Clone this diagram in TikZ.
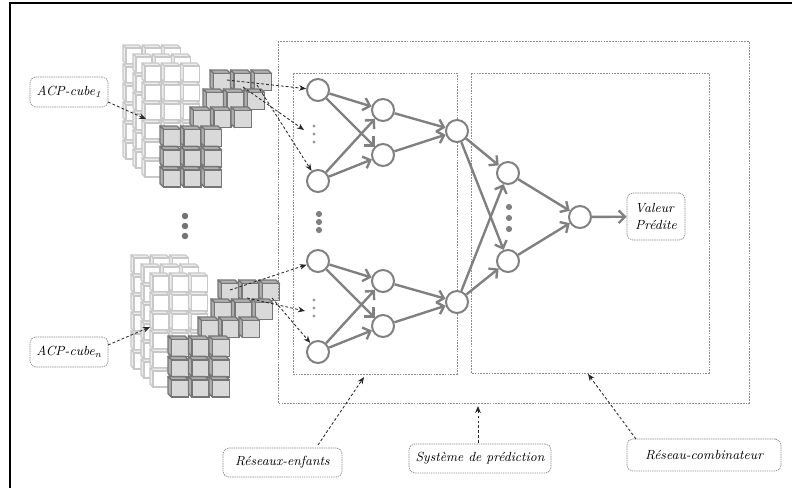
\documentclass[tikz,border=0pt]{standalone}
\usetikzlibrary{arrows.meta}
\definecolor{nngray}{RGB}{128,128,128}
\definecolor{darkfill}{RGB}{217,217,217}
\definecolor{darkside}{RGB}{175,175,175}
\definecolor{darkline}{RGB}{118,118,118}
\definecolor{lightline}{RGB}{200,200,200}
\definecolor{lightside}{RGB}{236,236,236}
\definecolor{framegray}{RGB}{140,140,140}
\tikzset{
  neuron/.style={circle, draw=nngray, line width=1.4pt, fill=white, minimum size=0.55cm, inner sep=0pt},
  nnarrow/.style={draw=nngray, line width=1.7pt, -{Straight Barb[length=4.5pt,width=9pt]}},
  cuearrow/.style={draw=black!85, line width=0.6pt, dash pattern=on 2pt off 1.5pt, -{Stealth[length=5pt,width=4pt]}},
  labelbox/.style={draw=framegray, dash pattern=on 1pt off 0.6pt, line width=0.5pt, rounded corners=4pt, font=\fontsize{9.4}{11.5}\selectfont\itshape, inner sep=0pt},
  zone/.style={draw=framegray, dash pattern=on 1.2pt off 0.8pt, line width=0.45pt},
  dcube/.pic={
    \filldraw[fill=darkside, draw=darkline, line width=1pt, line join=round] (3.5,3.5) -- (20.5,3.5) -- (17,0) -- (0,0) -- cycle;
    \filldraw[fill=darkside, draw=darkline, line width=1pt, line join=round] (3.5,3.5) -- (3.5,20.5) -- (0,17) -- (0,0) -- cycle;
    \filldraw[fill=darkfill, draw=darkline, line width=1pt] (3.5,3.5) rectangle (20.5,20.5);
  },
  lcube/.pic={
    \filldraw[fill=lightside, draw=lightline, line width=0.9pt, line join=round] (3,3) -- (19,3) -- (16,0) -- (0,0) -- cycle;
    \filldraw[fill=lightside, draw=lightline, line width=0.9pt, line join=round] (3,3) -- (3,19) -- (0,16) -- (0,0) -- cycle;
    \filldraw[fill=white, draw=lightline, line width=0.9pt] (3,3) rectangle (19,19);
  }
}
\newcommand\cubegroup{%
  \foreach \ox/\oy in {123/45, 133/54, 142/63}{
    \foreach \r in {0,...,5}{
      \foreach \c in {0,1,2}{
        \pic at ({\ox+\c*19.3},{\oy+\r*19}) {lcube};
      }
    }
  }
  \foreach \ox/\oy in {210/70, 203/89, 190/107}{
    \foreach \c in {0,1,2}{
      \pic at ({\ox+\c*20.5},\oy) {dcube};
    }
  }
  \foreach \r in {0,1,2}{
    \foreach \c in {0,1,2}{
      \pic at ({160+\c*20.5},{126+\r*20.3}) {dcube};
    }
  }
}
\begin{document}
\begin{tikzpicture}[x=0.025cm,y=-0.025cm]
\useasboundingbox (0,0) rectangle (792,488);
% outer frame
\draw[line width=1.6pt, black] (10,488) -- (10,3) -- (792,3);

% cube groups
\cubegroup
\begin{scope}[shift={(8,210)}]
\cubegroup
\end{scope}

% left dots
\foreach \yy in {216,226,236} \fill[nngray!90!black] (185,\yy) circle (2.3pt);

% zones
\draw[zone] (278,41) rectangle (749,403);
\draw[zone] (293,73) rectangle (457,374);
\draw[zone] (471,73) rectangle (709,373);

% neurons
\node[neuron] (i1) at (318,90) {};
\node[neuron] (i2) at (318,181) {};
\node[neuron] (h1) at (383,110) {};
\node[neuron] (h2) at (383,155) {};
\node[neuron] (o1) at (457,131) {};
\node[neuron] (i3) at (318,261) {};
\node[neuron] (i4) at (318,352) {};
\node[neuron] (h3) at (383,281) {};
\node[neuron] (h4) at (383,326) {};
\node[neuron] (o2) at (457,302) {};
\node[neuron] (c1) at (508,173) {};
\node[neuron] (c2) at (508,261) {};
\node[neuron] (co) at (580,217) {};

% dots
\foreach \yy in {126,134,142} \fill[nngray!80] (314,\yy) circle (1.1pt);
\foreach \yy in {300,308,316} \fill[nngray!80] (314,\yy) circle (1.1pt);
\foreach \yy in {214,222,230} \fill[nngray] (319,\yy) circle (2.2pt);
\foreach \yy in {207,218,229} \fill[nngray] (509,\yy) circle (2.2pt);

% network arrows
\foreach \a/\b in {i1/h1, i1/h2, i2/h1, i2/h2, h1/o1, h2/o1,
                   i3/h3, i3/h4, i4/h3, i4/h4, h3/o2, h4/o2,
                   o1/c1, o1/c2, o2/c1, o2/c2, c1/co, c2/co}
  \draw[nnarrow] (\a) -- (\b);

% labels
\node[labelbox, minimum width=1.45cm, minimum height=1.175cm, align=left] (val) at (656,216.5) {Valeur\\Prédite};
\draw[nnarrow] (co) -- (val);

\node[labelbox, minimum width=1.95cm, minimum height=0.75cm] (acp1) at (69,92) {ACP-cube\textsubscript{\textit{1}}};
\node[labelbox, minimum width=1.95cm, minimum height=0.75cm] (acpn) at (69,352) {ACP-cube\textsubscript{\textit{n}}};
\node[labelbox, minimum width=2.975cm, minimum height=0.725cm] (lre) at (282.5,462.5) {Réseaux-enfants};
\node[labelbox, minimum width=3.55cm, minimum height=0.725cm] (lsy) at (480,458.5) {Système de prédiction};
\node[labelbox, minimum width=3.85cm, minimum height=0.8cm] (lco) at (704,455) {Réseau-combinateur};

% cue arrow coordinates
\coordinate (a1S) at (108,102);  \coordinate (a1E) at (146,119);
\coordinate (anS) at (108,345);  \coordinate (anE) at (150,327);
\coordinate (reS) at (318,445);  \coordinate (reE) at (364,377);
\coordinate (syS) at (478,443);  \coordinate (syE) at (478,406);
\coordinate (coS) at (636,439);  \coordinate (coE) at (588,374);
\coordinate (t1) at (227,80);  \coordinate (t2) at (243,87);  \coordinate (t3) at (257,85);
\coordinate (dt) at (304,130);
\coordinate (b1) at (230,290); \coordinate (b2) at (247,298); \coordinate (b3) at (272,298);
\coordinate (db) at (305,311);

\draw[cuearrow] (a1S) -- (a1E);
\draw[cuearrow] (anS) -- (anE);
\draw[cuearrow] (reS) -- (reE);
\draw[cuearrow] (syS) -- (syE);
\draw[cuearrow] (coS) -- (coE);
\draw[cuearrow] (t1) -- (i1);
\draw[cuearrow] (t2) -- (dt);
\draw[cuearrow] (t3) -- (i2);
\draw[cuearrow] (b1) -- (i3);
\draw[cuearrow] (b2) -- (db);
\draw[cuearrow] (b3) -- (i4);
\end{tikzpicture}
\end{document}
